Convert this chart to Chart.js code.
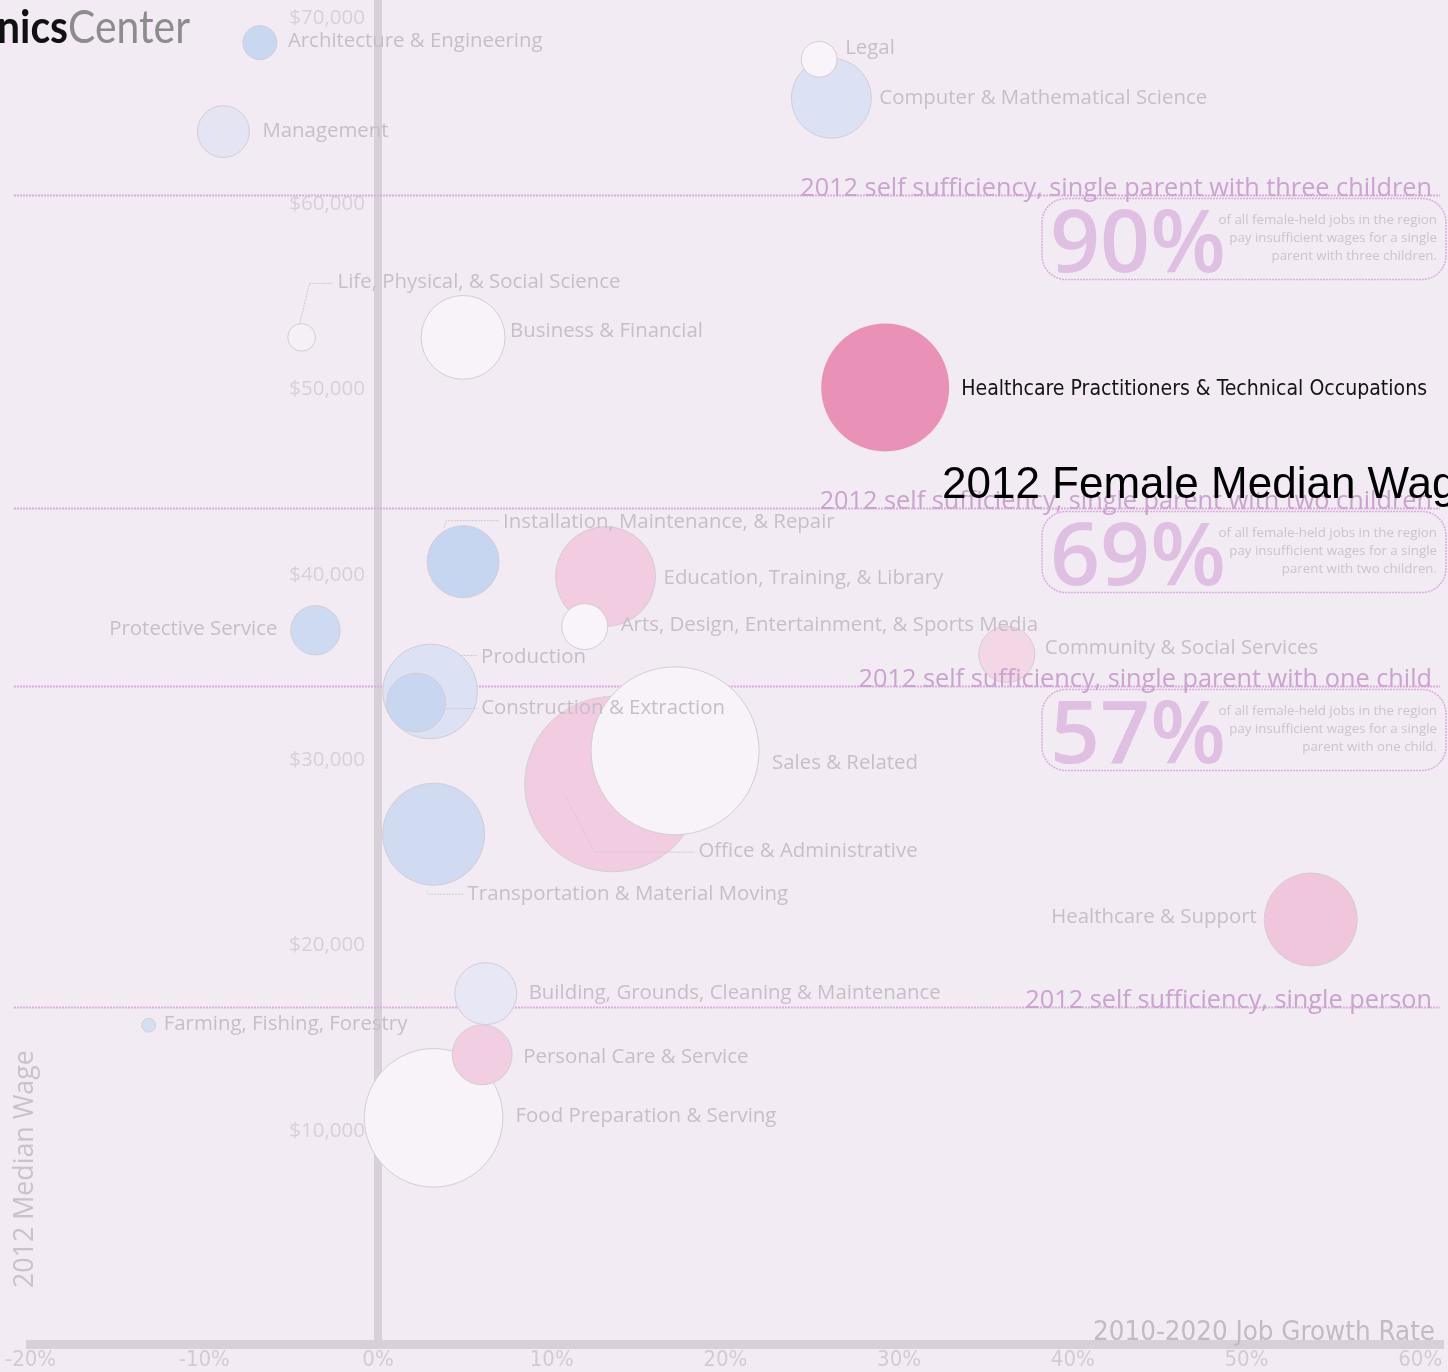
<!DOCTYPE html>
<html>
<head>
<meta charset="utf-8">
<script src="https://cdn.jsdelivr.net/npm/chart.js@4/dist/chart.umd.min.js"></script>
<style>
html,body{margin:0;padding:0;background:#F2EBF4;}
#wrap{position:relative;width:1448px;height:1372px;overflow:hidden;}
</style>
</head>
<body>
<div id="wrap"><canvas id="c"></canvas></div>
<script>
// ---------------- DATA ----------------
const categories = [
  'Architecture & Engineering',
  'Management',
  'Computer & Mathematical Science',
  'Legal',
  'Life, Physical, & Social Science',
  'Business & Financial',
  'Installation, Maintenance, & Repair',
  'Education, Training, & Library',
  'Arts, Design, Entertainment, & Sports Media',
  'Protective Service',
  'Production',
  'Construction & Extraction',
  'Community & Social Services',
  'Office & Administrative',
  'Sales & Related',
  'Transportation & Material Moving',
  'Healthcare & Support',
  'Building, Grounds, Cleaning & Maintenance',
  'Farming, Fishing, Forestry',
  'Food Preparation & Serving',
  'Personal Care & Service',
  'Healthcare Practitioners & Technical Occupations'
];
// 2010-2020 job growth rate (%)
const jobGrowth   = [-6.8, -8.9, 26.1, 25.4, -4.4, 4.9, 4.9, 13.1, 11.9, -3.6, 3.0, 2.2, 36.2, 13.5, 17.1, 3.2, 53.7, 6.2, -13.2, 3.2, 6.0, 29.2];
// 2012 female median wage ($)
const medianWage  = [68700, 63900, 65700, 67800, 52800, 52800, 40700, 39900, 37200, 37000, 33700, 33100, 35700, 28700, 30500, 26000, 21400, 17400, 15700, 10700, 14100, 50100];
// employment (thousands of jobs) -> bubble area
const employment  = [18, 42, 100, 20, 12, 110, 81, 156, 33, 38, 140, 54, 49, 480, 441, 163, 135, 60, 3, 300, 56, 256];
const highlighted = 'Healthcare Practitioners & Technical Occupations';

const xTickValues = [-20, -10, 0, 10, 20, 30, 40, 50, 60];
const yTickValues = [10000, 20000, 30000, 40000, 50000, 60000, 70000];

const sufficiencyLabels = [
  '2012 self sufficiency, single parent with three children',
  '2012 self sufficiency, single parent with two children',
  '2012 self sufficiency, single parent with one child',
  '2012 self sufficiency, single person'
];
const sufficiencyWage   = [60500, 43600, 34000, 16700];
const insufficientShare = [90, 69, 57, null];
const shareNoteLines = [
  ['of all female-held jobs in the region', 'pay insufficient wages for a single', 'parent with three children.'],
  ['of all female-held jobs in the region', 'pay insufficient wages for a single', 'parent with two children.'],
  ['of all female-held jobs in the region', 'pay insufficient wages for a single', 'parent with one child.'],
  null
];
const chartTitle = '2012 Female Median Wages';
const xAxisTitle = '2010-2020 Job Growth Rate';
const yAxisTitle = '2012 Median Wage';

// ---------------- STYLE / LAYOUT ----------------
const BUBBLE_SCALE = 4; // radius = sqrt(employment) * scale
const PLOT_LEFT = 30.6;
const Y_LABEL_RIGHT = 365;
const Y_TICK_FONT = {family: '"Open Sans"', size: 20.5};
const bubbleFill = {
 'Architecture & Engineering':'#C9D7F1','Management':'#E5E4F3','Legal':'#F8F4F9',
 'Computer & Mathematical Science':'#DCE2F4','Life, Physical, & Social Science':'#F5F0F6',
 'Business & Financial':'#F7F3F8','Healthcare Practitioners & Technical Occupations':'#EA91B7',
 'Installation, Maintenance, & Repair':'#C6D5F0','Education, Training, & Library':'#F2CCE1',
 'Arts, Design, Entertainment, & Sports Media':'#F8F4F9','Protective Service':'#CDDAF2',
 'Production':'#DCE2F3','Construction & Extraction':'#C8D6F0','Community & Social Services':'#F3D7E7',
 'Office & Administrative':'#F2CDE1','Sales & Related':'#F7F3F8','Transportation & Material Moving':'#D0DBF2',
 'Healthcare & Support':'#F0C6DD','Building, Grounds, Cleaning & Maintenance':'#E8E7F5',
 'Farming, Fishing, Forestry':'#D5DFF4','Personal Care & Service':'#F2CEE2','Food Preparation & Serving':'#F7F3F8'
};
const labelLayout = {
 'Architecture & Engineering': {dx:28, dy:-1},
 'Management': {dx:39, dy:0},
 'Legal': {dx:26, dy:-11},
 'Computer & Mathematical Science': {dx:48, dy:0},
 'Life, Physical, & Social Science': {dx:36, dy:-55, lead:[[-2,-13],[8,-54],[32,-54]]},
 'Business & Financial': {dx:47, dy:-6},
 'Healthcare Practitioners & Technical Occupations': {dx:76, dy:2},
 'Installation, Maintenance, & Repair': {dx:40, dy:-40, lead:[[-19,-34],[-17,-41],[36,-41]]},
 'Education, Training, & Library': {dx:58, dy:2},
 'Arts, Design, Entertainment, & Sports Media': {dx:36, dy:-1},
 'Protective Service': {dx:-38, dy:-1, align:'right'},
 'Production': {dx:51, dy:-34, lead:[[31,-36],[47,-36]]},
 'Construction & Extraction': {dx:65, dy:6, lead:[[30,6],[61,6]]},
 'Community & Social Services': {dx:38, dy:-6},
 'Office & Administrative': {dx:86, dy:67, lead:[[-47,12],[-18,68],[82,68]]},
 'Sales & Related': {dx:97, dy:12},
 'Transportation & Material Moving': {dx:34, dy:60, lead:[[-7,57],[-5,60],[30,60]]},
 'Healthcare & Support': {dx:-54, dy:-2, align:'right'},
 'Building, Grounds, Cleaning & Maintenance': {dx:43, dy:0},
 'Farming, Fishing, Forestry': {dx:15, dy:-1},
 'Personal Care & Service': {dx:41, dy:2},
 'Food Preparation & Serving': {dx:82, dy:-2}
};

const points = categories.map((c, i) => ({x: jobGrowth[i], y: medianWage[i], r: Math.sqrt(employment[i]) * BUBBLE_SCALE}));
const fills = categories.map(c => bubbleFill[c]);
const borders = categories.map(c => c === highlighted ? 'rgba(0,0,0,0)' : '#D3CBD5');
const fmtWage = v => '$' + v.toLocaleString('en-US');

function fitSize(ctx, text, weight, family, target) {
  ctx.font = `${weight} 100px ${family}`;
  return 100 * target / ctx.measureText(text).width;
}
// width of the widest y tick label, so mirrored labels end next to the 0% line
const mctx = document.createElement('canvas').getContext('2d');
mctx.font = `${Y_TICK_FONT.size}px ${Y_TICK_FONT.family}`;
const yLabelW = Math.max(...yTickValues.map(v => mctx.measureText(fmtWage(v)).width));

const overlay = {
  id: 'overlay',
  beforeDatasetsDraw(chart) {
    const {ctx} = chart;
    const y = chart.scales.y;
    ctx.save();
    sufficiencyWage.forEach((w, i) => {
      const py = Math.round(y.getPixelForValue(w)) + 0.5;
      ctx.strokeStyle = '#D9ADDC';
      ctx.lineWidth = 2;
      ctx.setLineDash([2, 1]);
      ctx.beginPath(); ctx.moveTo(14, py); ctx.lineTo(1440, py); ctx.stroke();
      if (insufficientShare[i] != null) {
        ctx.setLineDash([2, 1]);
        ctx.lineWidth = 1.5;
        ctx.strokeStyle = '#D8AEDB';
        ctx.beginPath(); ctx.roundRect(1042, py + 3, 404, 81, 24); ctx.stroke();
        const pct = insufficientShare[i] + '%';
        const s = fitSize(ctx, pct, 600, '"Open Sans"', 176);
        ctx.font = `600 ${s}px "Open Sans"`;
        ctx.fillStyle = '#DFC0E2';
        ctx.textAlign = 'left'; ctx.textBaseline = 'alphabetic';
        ctx.fillText(pct, 1050, py + 76);
        ctx.font = '13.3px "Open Sans"';
        ctx.fillStyle = '#CCC3CE';
        ctx.textAlign = 'right';
        shareNoteLines[i].forEach((t, k) => ctx.fillText(t, 1437, py + 28 + k * 18));
      }
    });
    ctx.restore();
  },
  afterDatasetsDraw(chart) {
    const {ctx} = chart;
    const y = chart.scales.y;
    const meta = chart.getDatasetMeta(0);
    ctx.save();
    ctx.setLineDash([]);
    // sufficiency labels
    const ss = fitSize(ctx, sufficiencyLabels[0], 400, '"Open Sans"', 632);
    ctx.font = `${ss}px "Open Sans"`;
    ctx.fillStyle = '#CBA3CF';
    ctx.textAlign = 'right'; ctx.textBaseline = 'alphabetic';
    sufficiencyWage.forEach((w, i) => {
      const py = Math.round(y.getPixelForValue(w));
      ctx.fillText(sufficiencyLabels[i], 1432, py + 1);
    });
    // bubble labels
    const ls = fitSize(ctx, 'Computer & Mathematical Science', 400, '"Open Sans"', 328);
    categories.forEach((c, i) => {
      const el = meta.data[i];
      const L = labelLayout[c];
      if (L.lead) {
        ctx.strokeStyle = '#CFC7D1'; ctx.lineWidth = 1; ctx.setLineDash([2, 1]);
        ctx.beginPath();
        L.lead.forEach((p, k) => k ? ctx.lineTo(el.x + p[0], el.y + p[1]) : ctx.moveTo(el.x + p[0], el.y + p[1]));
        ctx.stroke(); ctx.setLineDash([]);
      }
      ctx.textAlign = L.align || 'left';
      ctx.textBaseline = 'middle';
      if (c === highlighted) {
        const hs = fitSize(ctx, c, 400, '"DejaVu Sans Condensed"', 466);
        ctx.font = `${hs}px "DejaVu Sans Condensed"`;
        ctx.fillStyle = '#141414';
      } else {
        ctx.font = `${ls}px "Open Sans"`;
        ctx.fillStyle = '#C7BEC9';
      }
      ctx.fillText(c, el.x + L.dx, el.y + L.dy);
    });
    // axis titles
    ctx.textBaseline = 'alphabetic';
    const xs = fitSize(ctx, xAxisTitle, 400, '"Liberation Sans Narrow","DejaVu Sans Condensed"', 342);
    ctx.font = `${xs}px "Liberation Sans Narrow","DejaVu Sans Condensed"`;
    ctx.fillStyle = '#C4BAC6';
    ctx.textAlign = 'right';
    ctx.fillText(xAxisTitle, 1435, 1340);
    const ys = fitSize(ctx, yAxisTitle, 400, '"Open Sans"', 238);
    ctx.save();
    ctx.translate(33, 1288); ctx.rotate(-Math.PI / 2);
    ctx.font = `${ys}px "Open Sans"`;
    ctx.fillStyle = '#CAC1CC';
    ctx.textAlign = 'left';
    ctx.fillText(yAxisTitle, 0, 0);
    ctx.restore();
    // logo
    ctx.textAlign = 'left';
    ctx.font = 'bold 46px Lato';
    const w1 = ctx.measureText('nics').width;
    ctx.font = '46px Lato';
    const w2 = ctx.measureText('Center').width;
    const k = 193 / (w1 + w2);
    ctx.save();
    ctx.translate(-3, 43); ctx.scale(k, 1);
    ctx.font = 'bold 46px Lato'; ctx.fillStyle = '#111';
    ctx.fillText('nics', 0, 0);
    ctx.font = '46px Lato'; ctx.fillStyle = '#8C8C8C';
    ctx.fillText('Center', w1, 0);
    ctx.restore();
    // title
    ctx.font = '44px "Liberation Sans"';
    ctx.fillStyle = '#000';
    ctx.textAlign = 'left';
    ctx.fillText(chartTitle, 942, 498);
    ctx.restore();
  }
};

new Chart(document.getElementById('c'), {
  type: 'bubble',
  data: {
    datasets: [{
      data: points,
      backgroundColor: fills,
      borderColor: borders,
      borderWidth: 1,
      clip: false
    }]
  },
  options: {
    responsive: true,
    maintainAspectRatio: false,
    animation: false,
    events: [],
    layout: {autoPadding: false, padding: {left: PLOT_LEFT, right: 8, top: 0, bottom: 0}},
    plugins: {legend: {display: false}, tooltip: {enabled: false}, title: {display: false}},
    scales: {
      x: {
        type: 'linear', min: -20, max: 61.14, position: 'bottom',
        afterBuildTicks: s => { s.ticks = xTickValues.map(v => ({value: v})); },
        afterFit: s => { s.height = 28; },
        ticks: {
          autoSkip: false, maxRotation: 0, minRotation: 0, padding: 3,
          color: '#D3CAD5',
          font: {family: '"Liberation Sans Narrow","DejaVu Sans Condensed",sans-serif', size: 22},
          callback: v => v + '%'
        },
        grid: {
          drawTicks: false,
          color: c => (c.tick && c.tick.value === 0) ? '#D7D0DB' : 'rgba(0,0,0,0)',
          lineWidth: 8
        },
        border: {display: true, color: '#D7D0DB', width: 9}
      },
      y: {
        type: 'linear', min: -1500, max: 71000, position: 'left',
        afterBuildTicks: s => { s.ticks = yTickValues.map(v => ({value: v})); },
        afterFit: s => { s.width = 0; s.paddingTop = 0; s.paddingBottom = 0; },
        ticks: {
          autoSkip: false,
          mirror: true,
          padding: Y_LABEL_RIGHT - PLOT_LEFT - yLabelW,
          color: '#D8CFDA',
          font: Y_TICK_FONT,
          callback: v => fmtWage(v)
        },
        grid: {display: false},
        border: {display: false}
      }
    }
  },
  plugins: [overlay]
});
</script>
</body>
</html>
